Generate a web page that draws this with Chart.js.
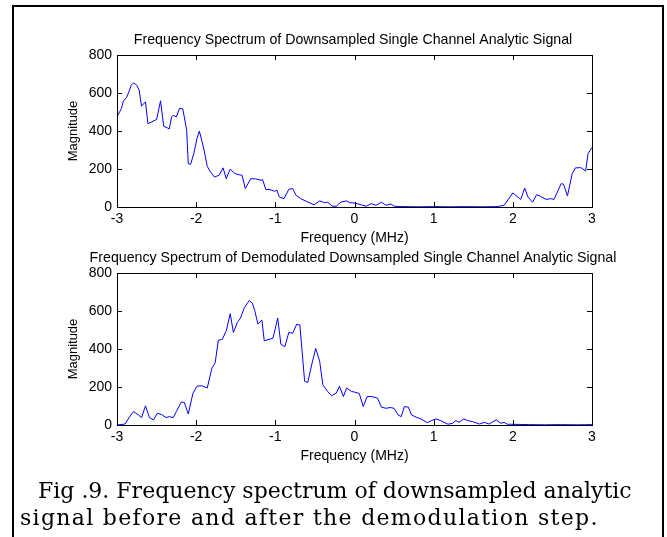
<!DOCTYPE html>
<html>
<head>
<meta charset="utf-8">
<script src="https://cdn.jsdelivr.net/npm/chart.js@4.4.1/dist/chart.umd.min.js"></script>
<style>
  html, body { margin: 0; padding: 0; background: #fff; }
  body { width: 667px; height: 537px; position: relative; overflow: hidden; }
  .frame { position: absolute; left: 12px; top: 5px; width: 652px; height: 600px; box-sizing: border-box; border: 2px solid #000; border-bottom: none; }
  .plot { position: absolute; left: 0; width: 667px; height: 222px; }
  #top { top: 28px; }
  #bottom { top: 246px; }
  .cap { position: absolute; font-family: "DejaVu Serif", serif; font-size: 22px; color: #000; white-space: nowrap; line-height: 1; }
</style>
</head>
<body>
<div class="frame"></div>
<div class="plot" id="top"><canvas id="chartTop"></canvas></div>
<div class="plot" id="bottom"><canvas id="chartBottom"></canvas></div>
<div class="cap" id="cap1" style="left:38px; top:480px;">Fig .9. Frequency spectrum of downsampled analytic</div>
<div class="cap" id="cap2" style="left:20px; top:507px; letter-spacing:1.3px;">signal before and after the demodulation step.</div>
<script>
// valeurs (MHz, magnitude)
const topFreq = [-3.00, -2.945, -2.92, -2.88, -2.85, -2.82, -2.79, -2.75, -2.72, -2.69, -2.67, -2.64, -2.61, -2.56, -2.52, -2.50,
    -2.45, -2.41, -2.37, -2.34, -2.31, -2.29, -2.25, -2.21, -2.17, -2.15, -2.12, -2.10, -2.07, -2.03, -1.99, -1.96, -1.93,
    -1.90, -1.86, -1.82, -1.77, -1.71, -1.66, -1.62, -1.57, -1.51, -1.46, -1.42, -1.38, -1.31, -1.25, -1.18, -1.16, -1.12,
    -1.08, -1.01, -0.98, -0.95, -0.89, -0.83, -0.78, -0.74, -0.68, -0.59, -0.51, -0.44, -0.38, -0.34, -0.28, -0.23, -0.17,
    -0.10, -0.06, 0.00, 0.08, 0.15, 0.21, 0.27, 0.34, 0.40, 0.46, 0.50, 0.60, 0.80, 1.00, 1.20, 1.40, 1.60, 1.80, 1.89,
    2.00, 2.10, 2.15, 2.19, 2.25, 2.30, 2.35, 2.42, 2.48, 2.52, 2.61, 2.64, 2.69, 2.75, 2.79, 2.86, 2.92, 2.95, 3.00];
const topMag = [475, 518, 557, 576, 606, 641, 654, 641, 615, 531, 541, 553, 439, 448, 457, 460,
    559, 425, 418, 411, 474, 483, 474, 520, 517, 474, 404, 228, 225, 281, 360, 400, 351,
    299, 214, 185, 158, 167, 206, 149, 199, 176, 170, 167, 97, 149, 148, 141, 144, 91,
    93, 83, 88, 53, 44, 93, 97, 62, 44, 26, 12, 32, 23, 25, 4, 4, 26,
    32, 23, 21, 12, 4, 18, 9, 25, 9, 16, 4, 2, 1, 2, 1, 2, 1, 2, 9,
    74, 40, 100, 53, 25, 65, 56, 40, 44, 40, 123, 120, 58, 176, 206, 207, 190, 281, 313];

const botFreq = [-3.00, -2.90, -2.84, -2.79, -2.73, -2.69, -2.64, -2.59, -2.54, -2.49, -2.44, -2.38, -2.34, -2.29, -2.25,
    -2.19, -2.15, -2.10, -2.04, -1.99, -1.93, -1.89, -1.86, -1.83, -1.80, -1.76, -1.72, -1.67, -1.62, -1.57, -1.53, -1.48,
    -1.44, -1.39, -1.33, -1.29, -1.26, -1.22, -1.17, -1.14, -1.08, -1.03, -0.97, -0.93, -0.88, -0.83, -0.78, -0.73, -0.69,
    -0.63, -0.59, -0.54, -0.49, -0.44, -0.40, -0.34, -0.29, -0.23, -0.19, -0.14, -0.10, -0.04, 0.00, 0.06, 0.11, 0.16,
    0.21, 0.29, 0.34, 0.40, 0.45, 0.50, 0.55, 0.59, 0.63, 0.68, 0.72, 0.78, 0.84, 0.92, 0.97, 1.03, 1.09, 1.18, 1.24,
    1.28, 1.32, 1.38, 1.43, 1.49, 1.58, 1.64, 1.70, 1.79, 1.85, 1.89, 1.93, 1.97, 2.20, 2.40, 2.60, 2.80, 3.00];
const botMag = [0, 5, 44, 71, 53, 39, 101, 39, 27, 62, 56, 39, 44, 39, 71,
    120, 119, 58, 168, 204, 207, 200, 195, 248, 301, 327, 446, 451, 496, 586, 487, 540,
    563, 619, 655, 641, 602, 531, 553, 443, 451, 457, 563, 425, 412, 487, 483, 531, 526,
    230, 224, 319, 403, 336, 212, 177, 154, 168, 204, 150, 195, 177, 173, 166, 97, 150,
    150, 142, 94, 88, 92, 88, 53, 44, 97, 94, 53, 41, 32, 12, 23, 32, 23, 4, 9,
    23, 14, 32, 23, 18, 5, 14, 5, 27, 9, 14, 4, 4, 2, 1, 2, 1, 2];

const xTitle = 'Frequency (MHz)';
const yTitle = 'Magnitude';
const titleTop = 'Frequency Spectrum of Downsampled Single Channel Analytic Signal';
const titleBottom = 'Frequency Spectrum of Demodulated Downsampled Single Channel Analytic Signal';

const policeAxe = "'Liberation Sans', Arial, sans-serif";

// cadre et graduations vers l'intérieur (style matlab)
const cadreMatlab = {
    id: 'cadreMatlab',
    afterDatasetsDraw(chart) {
        const {ctx, chartArea: a, scales: {x, y}} = chart;
        ctx.save();
        ctx.strokeStyle = '#000';
        ctx.lineWidth = 1;
        ctx.strokeRect(Math.round(a.left) + 0.5, Math.round(a.top) + 0.5, Math.round(a.right - a.left), Math.round(a.bottom - a.top));
        ctx.beginPath();
        x.ticks.forEach(t => {
            const px = Math.round(x.getPixelForValue(t.value)) + 0.5;
            ctx.moveTo(px, a.bottom); ctx.lineTo(px, a.bottom - 5);
            ctx.moveTo(px, a.top); ctx.lineTo(px, a.top + 5);
        });
        y.ticks.forEach(t => {
            const py = Math.round(y.getPixelForValue(t.value)) + 0.5;
            ctx.moveTo(a.left, py); ctx.lineTo(a.left + 5, py);
            ctx.moveTo(a.right, py); ctx.lineTo(a.right - 5, py);
        });
        ctx.stroke();
        ctx.restore();
    }
};

const makeConfig = (freq, mag, titre) => ({
    type: 'line',
    data: {
        datasets: [{
            data: freq.map((f, i) => ({x: f, y: mag[i]})),
            borderColor: '#0000ff',
            borderWidth: 1,
            pointRadius: 0,
            tension: 0,
            fill: false
        }]
    },
    options: {
        responsive: false,
        animation: false,
        layout: { padding: { left: 60, right: 21, top: 0, bottom: 0 } },
        plugins: {
            legend: { display: false },
            tooltip: { enabled: false },
            title: {
                display: true,
                text: titre,
                color: '#000',
                font: { family: policeAxe, size: 14.2, weight: 'normal' },
                padding: { top: 3.5, bottom: 6.5 }
            }
        },
        scales: {
            x: {
                type: 'linear',
                min: -3, max: 3,
                ticks: { stepSize: 1, color: '#000', padding: 3.5, font: { family: policeAxe, size: 14 } },
                grid: { display: false, drawTicks: false },
                border: { display: false },
                title: { display: true, text: xTitle, color: '#000', font: { family: policeAxe, size: 14 }, padding: { top: 0, bottom: 3.6 } },
                afterFit: s => { s.height = 43; }
            },
            y: {
                min: 0, max: 800,
                ticks: { stepSize: 200, color: '#000', padding: 5, font: { family: policeAxe, size: 14 } },
                grid: { display: false, drawTicks: false },
                border: { display: false },
                title: { display: true, text: yTitle, color: '#000', font: { family: policeAxe, size: 13 }, padding: { top: 5.2, bottom: 0 } },
                afterFit: s => { s.width = 57; }
            },
            // axe vide à droite : sert seulement à recentrer le titre
            y2: {
                type: 'linear',
                position: 'right',
                min: 0, max: 800,
                ticks: { display: false },
                grid: { display: false, drawTicks: false },
                border: { display: false },
                afterFit: s => { s.width = 54; }
            }
        }
    },
    plugins: [cadreMatlab]
});

const cvTop = document.getElementById('chartTop');
cvTop.width = 667; cvTop.height = 222;
const cvBot = document.getElementById('chartBottom');
cvBot.width = 667; cvBot.height = 222;

new Chart(cvTop, makeConfig(topFreq, topMag, titleTop));
new Chart(cvBot, makeConfig(botFreq, botMag, titleBottom));
</script>
</body>
</html>
